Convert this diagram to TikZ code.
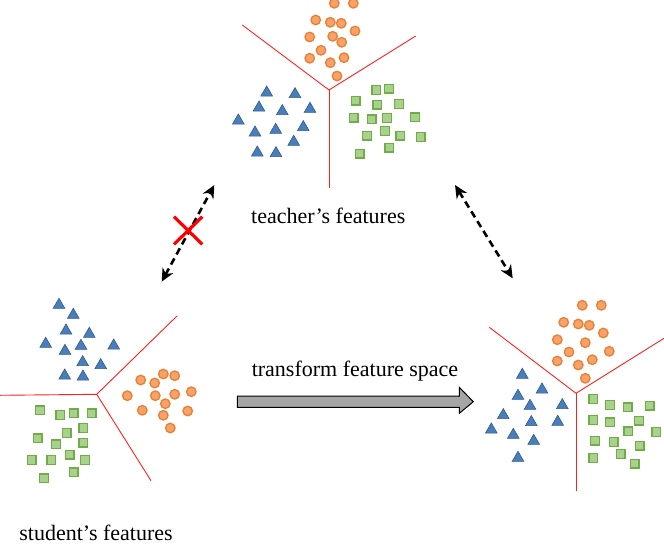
\documentclass[tikz,border=0pt]{standalone}
\usepackage{fontspec}
\setmainfont{Liberation Serif}
\usetikzlibrary{shapes.geometric,arrows.meta}
\definecolor{orfill}{HTML}{F4A46A}
\definecolor{ordraw}{HTML}{ED7D31}
\definecolor{blfill}{HTML}{4A7EBB}
\definecolor{bldraw}{HTML}{2E5C8A}
\definecolor{grfill}{HTML}{A9D18E}
\definecolor{grdraw}{HTML}{70AD47}
\definecolor{sep}{HTML}{FF2020}
\definecolor{arrfill}{HTML}{A5A5A5}
\tikzset{
  dot/.style={circle,fill=orfill,draw=ordraw,line width=1.3pt,minimum size=9.5pt,inner sep=0pt},
  tri/.style={regular polygon,regular polygon sides=3,fill=blfill,draw=bldraw,line width=0.6pt,minimum size=13.5pt,inner sep=0pt},
  sq/.style={rectangle,fill=grfill,draw=grdraw,line width=1.3pt,minimum size=8.5pt,inner sep=0pt},
  sepline/.style={draw=sep,line width=0.9pt},
  dasharrow/.style={line width=2.6pt,dash pattern=on 7pt off 4.5pt,{Stealth[length=13pt,width=12pt]}-{Stealth[length=13pt,width=12pt]}},
  lbl/.style={font=\fontsize{22}{26}\selectfont,inner sep=0pt},
}
\begin{document}
\begin{tikzpicture}[x=1pt,y=-1pt]
\useasboundingbox (0,0) rectangle (664,557);
% ---------- teacher cluster ----------
\coordinate (tc) at (329,90);
\coordinate (tl) at (242.3,25);
\coordinate (tr) at (415.7,36);
\coordinate (tb) at (329,188.3);
\draw[sepline] (tl) -- (tc) -- (tr);
\draw[sepline] (tc) -- (tb);
\foreach \p [count=\i] in {(334.3,3.3),(353.3,3.3),(315.7,20),(330.3,22.3),(341.3,23.3),(355,31),(309.7,37),(332.7,36.3),(341.7,42.3),(321,50.3),(309.7,58.3),(330.3,62.7),(344,57.7),(337,76)}
  \node[dot] (tdot\i) at \p {};
\foreach \p [count=\i] in {(266.7,92.7),(295,94.3),(259,107.7),(282.3,111.3),(310,109),(238.3,120.7),(255,132.7),(275.7,130),(303.3,127.3),(293.7,142),(257.3,152.7),(276,153.3)}
  \node[tri] (ttri\i) at \p {};
\foreach \p [count=\i] in {(376.3,90),(389,88.7),(355.7,100.7),(377.3,104.7),(399,104),(353.7,117.7),(371.7,119.3),(387,118),(415,117.3),(367,135.7),(385,131),(400.3,135.7),(420.7,137),(389.3,147.7),(359.7,153.7)}
  \node[sq] (tsq\i) at \p {};
% ---------- student cluster ----------
\coordinate (sc) at (96.7,394.3);
\coordinate (sl) at (0,395.3);
\coordinate (sr) at (177.3,315.7);
\coordinate (sb) at (151,480.7);
\draw[sepline] (sl) -- (sc) -- (sr);
\draw[sepline] (sc) -- (sb);
\foreach \p [count=\i] in {(59,305),(73.3,315),(66,330.7),(89.3,334),(45.7,344),(65,351),(81,346),(113.7,345.7),(82.7,362.3),(100.7,365.3),(64.7,375.7),(83,376.7)}
  \node[tri] (stri\i) at \p {};
\foreach \p [count=\i] in {(140.7,380),(154.7,383),(163.3,374),(174.7,375.7),(127.3,395.7),(155.3,395.7),(174.7,394.3),(191.3,391.7),(165.3,403.7),(142.3,410.3),(163.3,415.3),(187.7,411),(170.3,428)}
  \node[dot] (sdot\i) at \p {};
\foreach \p [count=\i] in {(40,410.3),(60.3,415),(73.7,413.3),(91.7,413.3),(83.3,428),(66.7,433),(37.7,438.3),(56,444.3),(83.3,442.7),(69.7,454.7),(31.7,460),(51.3,460),(85,460),(73.7,472.3),(44,478.3)}
  \node[sq] (ssq\i) at \p {};
% ---------- transformed cluster ----------
\coordinate (rc) at (576,393.3);
\coordinate (rl) at (489.3,327.3);
\coordinate (rr) at (664,338.3);
\coordinate (rb) at (576,490.7);
\draw[sepline] (rl) -- (rc) -- (rr);
\draw[sepline] (rc) -- (rb);
\foreach \p [count=\i] in {(582.3,305.3),(601.3,305.3),(563.7,322.3),(578.3,324),(589.3,325.3),(603.3,333),(557.3,339.7),(585.3,342.7),(569,352),(609.3,351.3),(557.3,361),(578.3,365),(592.3,359.7),(585.3,378.3)}
  \node[dot] (rdot\i) at \p {};
\foreach \p [count=\i] in {(522.3,375),(542,389.7),(518,396),(530,406),(562.3,405.3),(503.3,415.3),(531.3,422.3),(557.7,422),(491.3,429.7),(513.3,435),(533.7,441),(518,458)}
  \node[tri] (rtri\i) at \p {};
\foreach \p [count=\i] in {(593.3,399),(610,405),(627.7,407.3),(649.7,405.7),(593.3,420),(610,422.3),(639,420.7),(628.3,431.3),(656.3,432),(595,440.7),(613.7,442),(639.7,445.7),(620.7,454),(593.3,458),(634.7,463.7)}
  \node[sq] (rsq\i) at \p {};
% ---------- labels ----------
\node[lbl] (teach) at (328.3,216) {teacher’s features};
\node[lbl] (stud) at (96,532.5) {student’s features};
\node[lbl] (trans) at (355,371) {transform feature space};
% ---------- dashed arrows ----------
\coordinate (la) at (161.7,281.7);
\coordinate (lb) at (214.3,185);
\coordinate (ra) at (455,185);
\coordinate (rb2) at (512.7,278.3);
\draw[dasharrow] (la) -- (lb);
\draw[dasharrow] (ra) -- (rb2);
% ---------- red cross ----------
\coordinate (x1) at (174,216.7);
\coordinate (x2) at (202.3,244.3);
\coordinate (x3) at (202.3,216.7);
\coordinate (x4) at (174,244.3);
\draw[red,line width=3.2pt] (x1) -- (x2) (x3) -- (x4);
% ---------- gray arrow ----------
\draw[fill=arrfill,draw=black,line width=1pt,line join=miter]
  (237.3,396) -- (459.3,396) -- (459.3,387.3) -- (473.3,401.7) -- (459.3,413.3) -- (459.3,407.3) -- (237.3,407.3) -- cycle;
\end{tikzpicture}
\end{document}
